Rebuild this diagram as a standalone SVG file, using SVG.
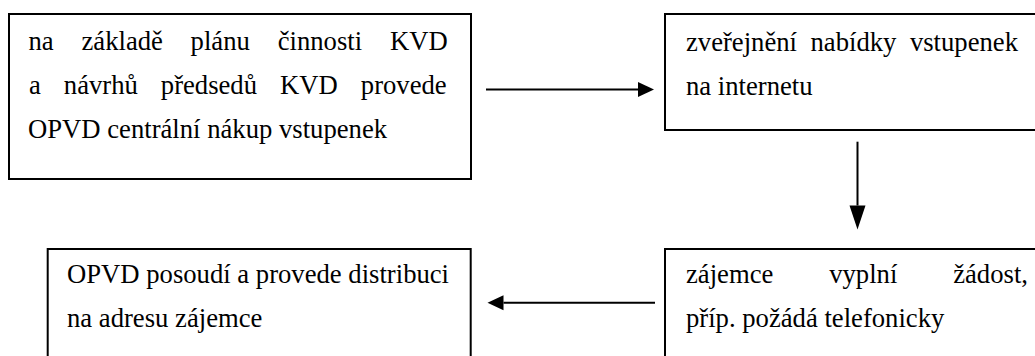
<svg xmlns="http://www.w3.org/2000/svg" width="1035" height="356" viewBox="0 0 1035 356">
  <style>
    .box { fill: #ffffff; stroke: #000000; stroke-width: 2; }
    .lbl { font-family: 'Liberation Serif', 'Times New Roman', serif; font-size: 26.67px; fill: #000000; }
    .conn { stroke: #000000; stroke-width: 2; fill: none; }
  </style>
  <defs>
    <marker id="arrH" markerUnits="userSpaceOnUse" markerWidth="16" markerHeight="16" refX="0" refY="8" orient="auto" overflow="visible">
      <path d="M0,0.5 L16,8 L0,15.5 Z" fill="#000000"/>
    </marker>
    <marker id="arrV" markerUnits="userSpaceOnUse" markerWidth="24" markerHeight="16" refX="0" refY="8" orient="auto" overflow="visible">
      <path d="M0,0 L24,8 L0,16 Z" fill="#000000"/>
    </marker>
  </defs>
  <rect width="1035" height="356" fill="#ffffff"/>

  <g id="node-nakup">
    <rect class="box" x="9" y="14" width="462" height="165"/>
    <text class="lbl" y="50"><tspan x="28.5">na</tspan><tspan x="81.5">základě</tspan><tspan x="190.6">plánu</tspan><tspan x="277.7">činnosti</tspan><tspan x="389.9">KVD</tspan></text>
    <text class="lbl" y="94"><tspan x="29">a</tspan><tspan x="63.8">návrhů</tspan><tspan x="160.8">předsedů</tspan><tspan x="280">KVD</tspan><tspan x="360.8">provede</tspan></text>
    <text class="lbl" x="28" y="138">OPVD centrální nákup vstupenek</text>
  </g>

  <g id="node-zverejneni">
    <rect class="box" x="665" y="14" width="385" height="116"/>
    <text class="lbl" y="51"><tspan x="686">zveřejnění</tspan><tspan x="810.5">nabídky</tspan><tspan x="909.9">vstupenek</tspan></text>
    <text class="lbl" x="686" y="95">na internetu</text>
  </g>

  <g id="node-zadost">
    <rect class="box" x="665" y="249" width="385" height="125"/>
    <text class="lbl" y="283"><tspan x="686">zájemce</tspan><tspan x="829.2">vyplní</tspan><tspan x="953.2">žádost,</tspan></text>
    <text class="lbl" x="686" y="327">příp. požádá telefonicky</text>
  </g>

  <g id="node-distribuce">
    <rect class="box" x="47.7" y="249" width="423" height="125"/>
    <text class="lbl" x="67" y="283">OPVD posoudí a provede distribuci</text>
    <text class="lbl" x="67" y="327">na adresu zájemce</text>
  </g>

  <g id="connectors">
    <line class="conn" x1="486" y1="89.5" x2="638" y2="89.5" marker-end="url(#arrH)"/>
    <line class="conn" x1="857.5" y1="141.7" x2="857.5" y2="205.5" marker-end="url(#arrV)"/>
    <line class="conn" x1="655" y1="302.7" x2="503.5" y2="302.7" marker-end="url(#arrH)"/>
  </g>
</svg>
